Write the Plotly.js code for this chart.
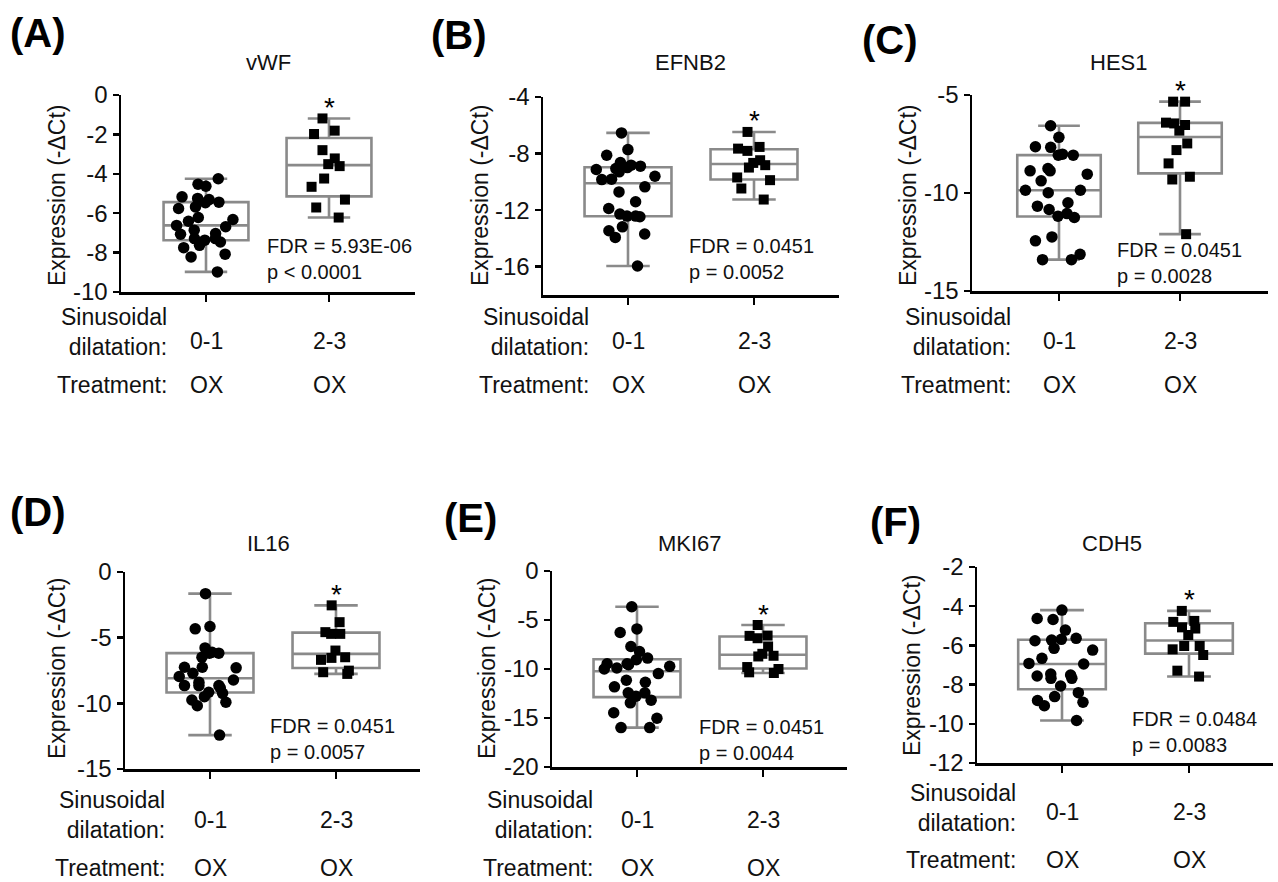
<!DOCTYPE html>
<html>
<head>
<meta charset="utf-8">
<script src="https://cdn.plot.ly/plotly-3.0.1.min.js"></script>
<style>html,body{margin:0;padding:0;background:#fff;}#chart{width:1278px;height:882px;}</style>
</head>
<body>
<div id="chart"></div>
<script>
// ---------------- data ----------------
const genes = ['vWF', 'EFNB2', 'HES1', 'IL16', 'MKI67', 'CDH5'];
const panelLabels = ['(A)', '(B)', '(C)', '(D)', '(E)', '(F)'];
const dilatationLevels = ['0-1', '2-3'];
const treatments = ['OX', 'OX'];
const fdrTexts = ['FDR = 5.93E-06', 'FDR = 0.0451', 'FDR = 0.0451', 'FDR = 0.0451', 'FDR = 0.0451', 'FDR = 0.0484'];
const pTexts = ['p < 0.0001', 'p = 0.0052', 'p = 0.0028', 'p = 0.0057', 'p = 0.0044', 'p = 0.0083'];

const vWF_low = [-4.25, -4.63, -4.53, -5.25, -5.44, -5.68, -5.47, -5.31, -5.17, -5.76, -6.41, -6.22, -6.32, -6.62, -6.86, -6.69, -7.29, -7.37, -7.07, -7.46, -7.29, -7.03, -7.63, -7.75, -8.08, -8.22, -8.98];
const vWF_high = [-1.19, -1.81, -1.98, -2.80, -3.22, -3.51, -3.61, -4.24, -4.66, -5.31, -5.71, -6.22];
const EFNB2_low = [-6.54, -7.72, -8.12, -8.82, -8.99, -9.13, -9.29, -9.06, -8.89, -8.64, -9.81, -9.84, -9.60, -10.35, -10.71, -11.41, -11.88, -12.42, -12.47, -12.42, -12.28, -13.18, -13.69, -13.93, -13.46, -15.95];
const EFNB2_high = [-6.47, -7.65, -7.81, -7.53, -8.66, -8.99, -8.82, -8.47, -9.69, -9.88, -10.47, -11.25];
const HES1_low = [-6.57, -7.16, -7.64, -7.67, -8.02, -8.07, -8.07, -8.75, -8.87, -9.04, -8.87, -9.38, -9.86, -9.99, -9.86, -10.50, -10.67, -10.84, -11.05, -11.25, -11.18, -12.24, -12.44, -13.13, -13.40, -13.40];
const HES1_high = [-5.34, -5.34, -6.45, -6.53, -6.41, -6.82, -7.47, -7.81, -8.49, -9.17, -9.31, -12.10];
const IL16_low = [-1.65, -4.33, -4.15, -5.78, -6.49, -6.18, -6.18, -6.11, -7.30, -7.25, -7.25, -7.71, -7.96, -8.22, -8.40, -8.65, -8.83, -9.24, -8.65, -8.65, -9.49, -9.92, -9.16, -9.75, -10.18, -12.42];
const IL16_high = [-2.54, -3.82, -4.58, -4.71, -4.71, -5.98, -6.54, -6.69, -6.49, -7.51, -7.76, -7.63];
const MKI67_low = [-3.65, -5.91, -6.28, -7.70, -8.21, -8.89, -9.46, -9.56, -9.05, -9.46, -9.90, -10.00, -9.73, -10.47, -11.35, -11.15, -11.82, -12.43, -12.43, -12.77, -13.18, -13.45, -14.46, -15.03, -15.98, -15.98];
const MKI67_high = [-5.51, -6.59, -6.86, -6.62, -7.70, -8.65, -8.72, -8.45, -10.00, -10.41, -10.34, -9.80];
const CDH5_low = [-4.20, -4.63, -4.68, -5.22, -5.76, -5.64, -5.73, -5.69, -6.15, -6.24, -6.66, -6.95, -6.92, -7.51, -7.68, -7.68, -7.56, -7.46, -8.07, -8.41, -8.61, -8.90, -9.08, -8.81, -9.83];
const CDH5_high = [-4.24, -4.75, -4.80, -5.08, -5.14, -5.47, -6.03, -6.20, -6.03, -6.49, -7.29, -7.59];

const ticksA = [0, -2, -4, -6, -8, -10];
const ticksB = [-4, -8, -12, -16];
const ticksC = [-5, -10, -15];
const ticksD = [0, -5, -10, -15];
const ticksE = [0, -5, -10, -15, -20];
const ticksF = [-2, -4, -6, -8, -10, -12];
const rangesY = [[-10, 0], [-18, -4], [-15, -5], [-15, 0], [-20, 0], [-12, -2]];

const lowGroups = [vWF_low, EFNB2_low, HES1_low, IL16_low, MKI67_low, CDH5_low];
const highGroups = [vWF_high, EFNB2_high, HES1_high, IL16_high, MKI67_high, CDH5_high];
const tickSets = [ticksA, ticksB, ticksC, ticksD, ticksE, ticksF];

// ---------------- layout geometry (pixels) ----------------
const W = 1278, H = 882;
const geom = [
  {xs: 121, xe: 415, c0: 206, c1: 329, yt: 95, yb: 292, lab: [38, 33], title: [268, 63], ytit: [57, 195], fdr: [265, 247, 272], rowR: 169, rows: [332, 341, 385]},
  {xs: 543, xe: 839, c0: 628, c1: 754, yt: 97, yb: 295, lab: [459, 35], title: [690, 63], ytit: [480, 195], fdr: [687, 247, 272], rowR: 591, rows: [332, 341, 385]},
  {xs: 972, xe: 1268, c0: 1059, c1: 1180, yt: 95, yb: 291, lab: [890, 40], title: [1118, 63], ytit: [908, 195], fdr: [1115, 251, 274], rowR: 1013, rows: [332, 341, 385]},
  {xs: 125, xe: 420, c0: 210, c1: 336, yt: 572, yb: 769, lab: [38, 512], title: [268, 543], ytit: [57, 668], fdr: [268, 727, 751], rowR: 167, rows: [815, 820, 868]},
  {xs: 552, xe: 847, c0: 637, c1: 763, yt: 571, yb: 767, lab: [470, 518], title: [690, 543], ytit: [487, 668], fdr: [697, 727, 752], rowR: 595, rows: [815, 820, 868]},
  {xs: 977, xe: 1273, c0: 1062, c1: 1189, yt: 567, yb: 763, lab: [895, 522], title: [1112, 543], ytit: [912, 665], fdr: [1130, 718, 745], rowR: 1018, rows: [808, 812, 860]}
];

const FONT = 'Liberation Sans, Arial, Helvetica, sans-serif';
const TXT = '#111111';
const BOXC = '#8a8a8a';

function quant(arr, p) {
  const s = arr.slice().sort((a, b) => a - b);
  const n = s.length;
  let r = p * (n + 1);
  if (r < 1) r = 1;
  if (r > n) r = n;
  const lo = Math.floor(r), hi = Math.ceil(r);
  return s[lo - 1] + (r - lo) * (s[hi - 1] - s[lo - 1]);
}

const traces = [];
const layout = {
  width: W, height: H,
  margin: {l: 0, r: 0, t: 0, b: 0},
  paper_bgcolor: '#ffffff', plot_bgcolor: 'rgba(0,0,0,0)',
  showlegend: false, boxmode: 'overlay',
  font: {family: FONT, color: TXT},
  annotations: []
};

function px(x) { return x / W; }
function py(y) { return 1 - y / H; }

geom.forEach((g, i) => {
  const n = i + 1;
  const xa = 'x' + (n === 1 ? '' : n), ya = 'y' + (n === 1 ? '' : n);
  const xk = 'xaxis' + (n === 1 ? '' : n), yk = 'yaxis' + (n === 1 ? '' : n);
  const k = g.c1 - g.c0;
  layout[xk] = {
    domain: [px(g.xs), px(g.xe)],
    range: [(g.xs - g.c0) / k, (g.xe - g.c0) / k],
    anchor: ya, showline: true, linecolor: '#000', linewidth: 2.5,
    tickvals: [0, 1], ticktext: ['', ''], ticks: 'outside', ticklen: 7, tickwidth: 2.5, tickcolor: '#000',
    showgrid: false, zeroline: false, fixedrange: true
  };
  layout[yk] = {
    domain: [py(g.yb), py(g.yt)],
    range: rangesY[i],
    anchor: xa, showline: true, linecolor: '#000', linewidth: 2.5,
    tickvals: tickSets[i], ticktext: tickSets[i].map(v => String(v)),
    ticks: 'outside', ticklen: 6, tickwidth: 2.5, tickcolor: '#000',
    tickfont: {size: 24, family: FONT, color: TXT},
    showgrid: false, zeroline: false, fixedrange: true
  };
  [lowGroups[i], highGroups[i]].forEach((vals, j) => {
    traces.push({
      type: 'box', xaxis: xa, yaxis: ya,
      x: [j], q1: [quant(vals, 0.25)], median: [quant(vals, 0.5)], q3: [quant(vals, 0.75)],
      lowerfence: [Math.min(...vals)], upperfence: [Math.max(...vals)],
      width: 0.69, whiskerwidth: 0.5, boxpoints: false,
      line: {color: BOXC, width: 2.6}, fillcolor: 'rgba(0,0,0,0)', hoverinfo: 'skip'
    });
    traces.push({
      type: 'box', xaxis: xa, yaxis: ya,
      x0: j, y: vals, width: 0.69,
      boxpoints: 'all', jitter: j === 0 ? 0.85 : 0.5, pointpos: 0,
      line: {color: 'rgba(0,0,0,0)', width: 0}, fillcolor: 'rgba(0,0,0,0)',
      marker: {symbol: j === 0 ? 'circle' : 'square', size: j === 0 ? 11.5 : 10, color: '#000', line: {width: 0}},
      hoverinfo: 'y'
    });
  });
  const A = layout.annotations;
  A.push({xref: 'paper', yref: 'paper', x: px(g.lab[0]), y: py(g.lab[1]), xanchor: 'center', yanchor: 'middle', text: '<b>' + panelLabels[i] + '</b>', showarrow: false, font: {size: 40, family: FONT, color: '#000'}});
  A.push({xref: 'paper', yref: 'paper', x: px(g.title[0]), y: py(g.title[1]), xanchor: 'center', yanchor: 'middle', text: genes[i], showarrow: false, font: {size: 22, family: FONT, color: TXT}});
  A.push({xref: 'paper', yref: 'paper', x: px(g.ytit[0]), y: py(g.ytit[1]), xanchor: 'center', yanchor: 'middle', textangle: -90, text: 'Expression (-ΔCt)', showarrow: false, font: {size: 23, family: FONT, color: TXT}});
  A.push({xref: 'paper', yref: 'paper', x: px(g.fdr[0]), y: py((g.fdr[1] + g.fdr[2]) / 2), xanchor: 'left', yanchor: 'middle', align: 'left', text: fdrTexts[i] + '<br>' + pTexts[i], showarrow: false, font: {size: 20, family: FONT, color: TXT}});
  A.push({xref: xa, yref: ya, x: 1, y: Math.max(...highGroups[i]), yshift: 11, xanchor: 'center', yanchor: 'middle', text: '*', showarrow: false, font: {size: 28, family: FONT, color: '#000'}});
  A.push({xref: 'paper', yref: 'paper', x: px(g.rowR), y: py(g.rows[0]), xanchor: 'right', yanchor: 'middle', align: 'right', text: 'Sinusoidal<br>dilatation:', showarrow: false, font: {size: 23, family: FONT, color: TXT}});
  A.push({xref: 'paper', yref: 'paper', x: px(g.rowR), y: py(g.rows[2]), xanchor: 'right', yanchor: 'middle', text: 'Treatment:', showarrow: false, font: {size: 23, family: FONT, color: TXT}});
  [0, 1].forEach(j => {
    A.push({xref: xa, yref: 'paper', x: j, y: py(g.rows[1]), xanchor: 'center', yanchor: 'middle', text: dilatationLevels[j], showarrow: false, font: {size: 23, family: FONT, color: TXT}});
    A.push({xref: xa, yref: 'paper', x: j, y: py(g.rows[2]), xanchor: 'center', yanchor: 'middle', text: treatments[j], showarrow: false, font: {size: 23, family: FONT, color: TXT}});
  });
});

Plotly.newPlot('chart', traces, layout, {displayModeBar: false, staticPlot: true});
</script>
</body>
</html>
